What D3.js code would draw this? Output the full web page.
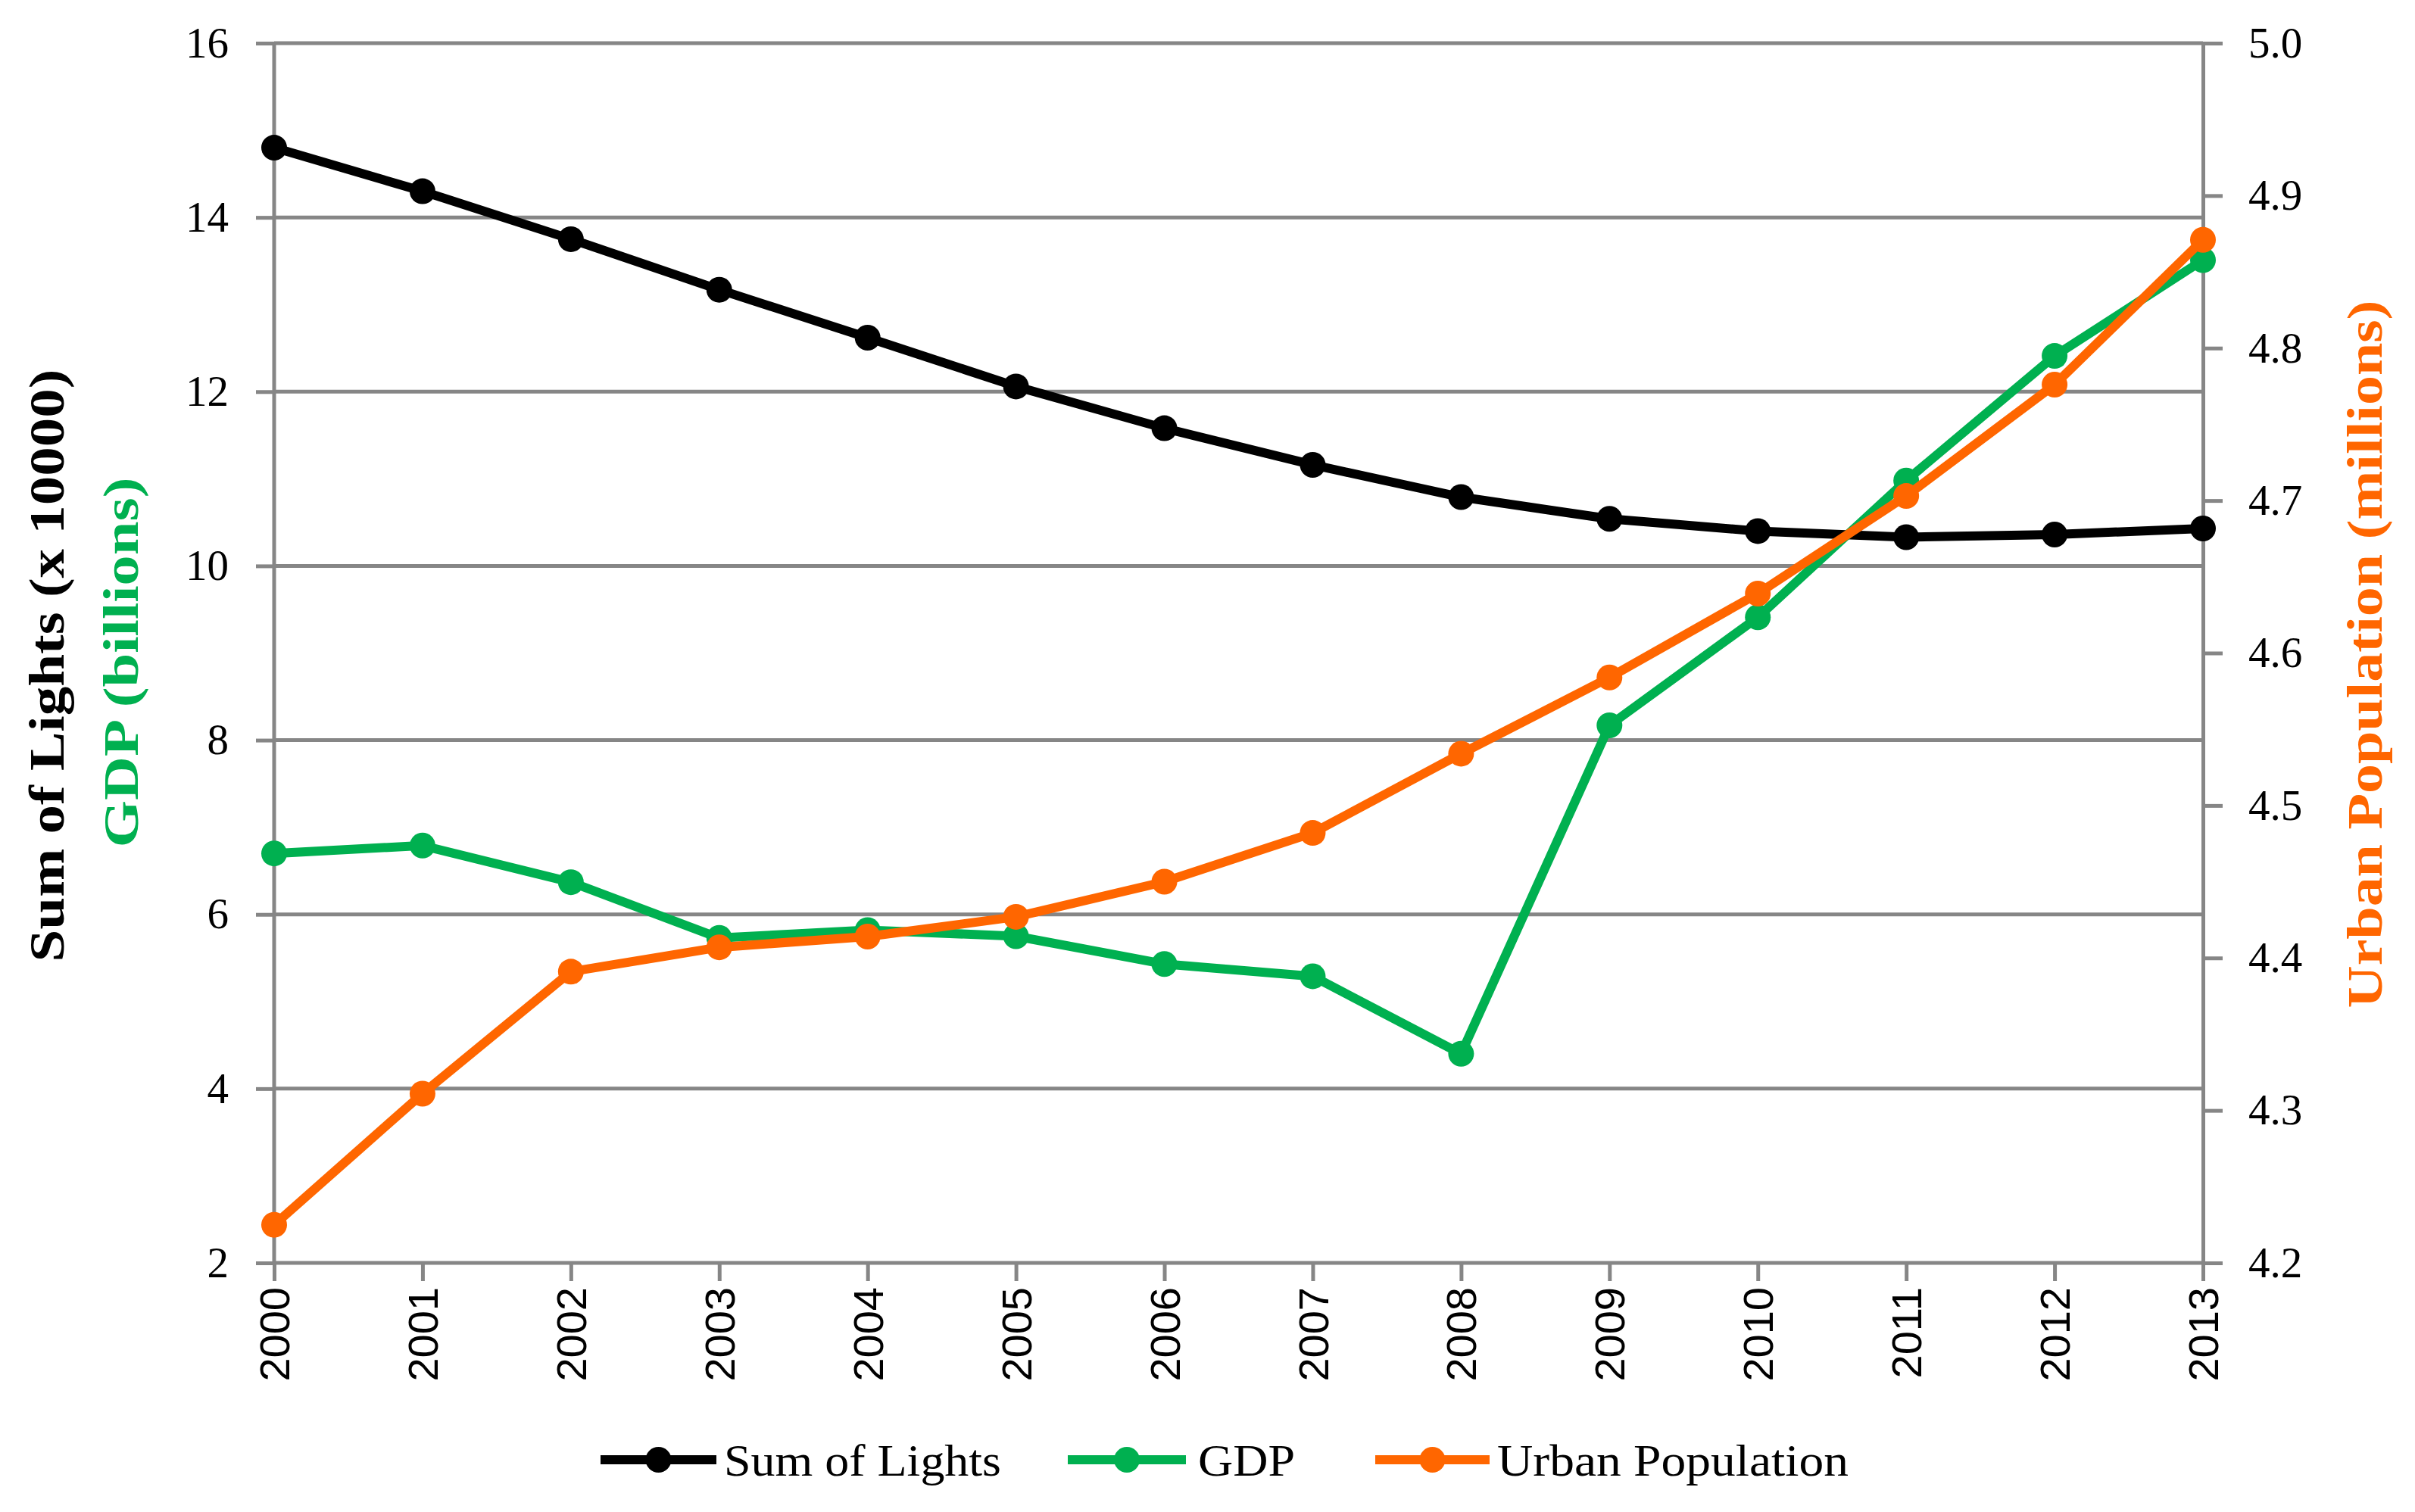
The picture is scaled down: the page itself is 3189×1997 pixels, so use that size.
<!DOCTYPE html>
<html>
<head>
<meta charset="utf-8">
<script src="https://cdn.jsdelivr.net/npm/d3@7"></script>
<style>
  html, body { margin: 0; padding: 0; background: #fff; }
  svg { display: block; }
</style>
</head>
<body>
<script>
// chart values
const years = [2000, 2001, 2002, 2003, 2004, 2005, 2006, 2007, 2008, 2009, 2010, 2011, 2012, 2013]
const sumOfLights = [14.80, 14.30, 13.75, 13.17, 12.62, 12.06, 11.58, 11.16, 10.79, 10.54, 10.40, 10.33, 10.36, 10.43]
const gdp = [6.70, 6.79, 6.37, 5.73, 5.82, 5.75, 5.43, 5.29, 4.40, 8.17, 9.41, 10.98, 12.41, 13.51]
const urbanPop = [4.225, 4.311, 4.391, 4.407, 4.414, 4.427, 4.450, 4.482, 4.534, 4.584, 4.639, 4.703, 4.776, 4.871]
const leftTicks = [2, 4, 6, 8, 10, 12, 14, 16]
const rightTicks = [4.2, 4.3, 4.4, 4.5, 4.6, 4.7, 4.8, 4.9, 5.0]
const seriesNames = ['Sum of Lights', 'GDP', 'Urban Population']
const seriesColors = ['#000000', '#00B050', '#FF6600']

const W = 3189
const H = 1997
const margins = { left: 362, top: 57, right: W - 2909, bottom: H - 1668 }
const serif = '"Liberation Serif", "Times New Roman", serif'
const gridColor = '#868686'
const lineW = 12
const dotR = 17

const svg = d3.select('body').append('svg')
  .attr('width', W)
  .attr('height', H)

// SCALES
const x = d3.scalePoint()
  .domain(years)
  .range([margins.left, W - margins.right])
const yLeft = d3.scaleLinear()
  .domain([2, 16])
  .range([H - margins.bottom, margins.top])
const yRight = d3.scaleLinear()
  .domain([4.2, 5.0])
  .range([H - margins.bottom, margins.top])

/*
GRID + AXES
*/

const leftAxis = svg.append('g')
  .attr('transform', `translate(${margins.left},0)`)
  .call(d3.axisLeft(yLeft).tickValues(leftTicks).tickSize(24).tickPadding(36).tickFormat(d3.format('d')))
leftAxis.select('.domain').remove()
leftAxis.selectAll('line').attr('stroke', gridColor).attr('stroke-width', 5)
leftAxis.selectAll('text')
  .attr('font-family', serif).attr('font-size', 57).attr('fill', '#000')

// horizontal gridlines
svg.append('g')
  .selectAll('line')
  .data(leftTicks)
  .enter()
  .append('line')
  .attr('x1', margins.left)
  .attr('x2', W - margins.right)
  .attr('y1', d => yLeft(d))
  .attr('y2', d => yLeft(d))
  .attr('stroke', gridColor)
  .attr('stroke-width', 5)

const rightAxis = svg.append('g')
  .attr('transform', `translate(${W - margins.right},0)`)
  .call(d3.axisRight(yRight).tickValues(rightTicks).tickSize(26).tickPadding(34).tickFormat(d3.format('.1f')))
rightAxis.select('.domain').attr('stroke', gridColor).attr('stroke-width', 5)
rightAxis.selectAll('line').attr('stroke', gridColor).attr('stroke-width', 5)
rightAxis.selectAll('text')
  .attr('font-family', serif).attr('font-size', 57).attr('fill', '#000')

// left vertical axis line
svg.append('line')
  .attr('x1', margins.left).attr('x2', margins.left)
  .attr('y1', yLeft(16)).attr('y2', yLeft(2))
  .attr('stroke', gridColor).attr('stroke-width', 5)

const bottomAxis = svg.append('g')
  .attr('transform', `translate(0,${H - margins.bottom})`)
  .call(d3.axisBottom(x).tickSize(24).tickPadding(0))
bottomAxis.select('.domain').remove()
bottomAxis.selectAll('line').attr('stroke', gridColor).attr('stroke-width', 5)
bottomAxis.selectAll('text')
  .attr('font-family', '"Liberation Sans Narrow", "Liberation Sans", Arial, sans-serif')
  .attr('font-size', 56)
  .attr('fill', '#000')
  .attr('text-anchor', 'end')
  .attr('dy', '0.35em')
  .attr('transform', 'translate(0,32) rotate(-90)')
  .attr('y', 0)
  .attr('x', 0)

/*
SERIES
*/

const allSeries = [
  { name: seriesNames[0], values: sumOfLights, y: yLeft, color: seriesColors[0] },
  { name: seriesNames[1], values: gdp, y: yLeft, color: seriesColors[1] },
  { name: seriesNames[2], values: urbanPop, y: yRight, color: seriesColors[2] }
]

allSeries.forEach(s => {
  const pts = years.map((yr, i) => [x(yr), s.y(s.values[i])])
  svg.append('path')
    .attr('d', d3.line()(pts))
    .attr('fill', 'none')
    .attr('stroke', s.color)
    .attr('stroke-width', lineW)
    .attr('stroke-linejoin', 'round')
  svg.append('g')
    .selectAll('circle')
    .data(pts)
    .enter()
    .append('circle')
    .attr('cx', d => d[0])
    .attr('cy', d => d[1])
    .attr('r', dotR)
    .attr('fill', s.color)
})

/*
AXIS TITLES
*/

function axisTitle(text, cx, cy, color, len) {
  svg.append('text')
    .attr('transform', `translate(${cx},${cy}) rotate(-90)`)
    .attr('text-anchor', 'middle')
    .attr('dy', '0.35em')
    .attr('font-family', serif)
    .attr('font-weight', 'bold')
    .attr('font-size', 66)
    .attr('fill', color)
    .attr('textLength', len)
    .attr('lengthAdjust', 'spacingAndGlyphs')
    .text(text)
}
axisTitle('Sum of Lights (x 10000)', 61, 879, '#000000', 783)
axisTitle('GDP (billions)', 159, 875, seriesColors[1], 489)
axisTitle('Urban Population (millions)', 3122, 864, seriesColors[2], 935)

/*
LEGEND
*/

const legendY = 1928
const legendItems = [
  { x0: 793, x1: 946, textX: 956, len: 366 },
  { x0: 1410, x1: 1566, textX: 1582, len: 128 },
  { x0: 1816, x1: 1967, textX: 1977, len: 464 }
]
const legend = svg.append('g')
legendItems.forEach((it, i) => {
  legend.append('line')
    .attr('x1', it.x0).attr('x2', it.x1)
    .attr('y1', legendY).attr('y2', legendY)
    .attr('stroke', seriesColors[i])
    .attr('stroke-width', lineW)
  legend.append('circle')
    .attr('cx', (it.x0 + it.x1) / 2)
    .attr('cy', legendY)
    .attr('r', dotR)
    .attr('fill', seriesColors[i])
  legend.append('text')
    .attr('x', it.textX)
    .attr('y', legendY)
    .attr('dy', '0.35em')
    .attr('font-family', serif)
    .attr('font-size', 60)
    .attr('fill', '#000')
    .attr('textLength', it.len)
    .attr('lengthAdjust', 'spacingAndGlyphs')
    .text(seriesNames[i])
})
</script>
</body>
</html>
